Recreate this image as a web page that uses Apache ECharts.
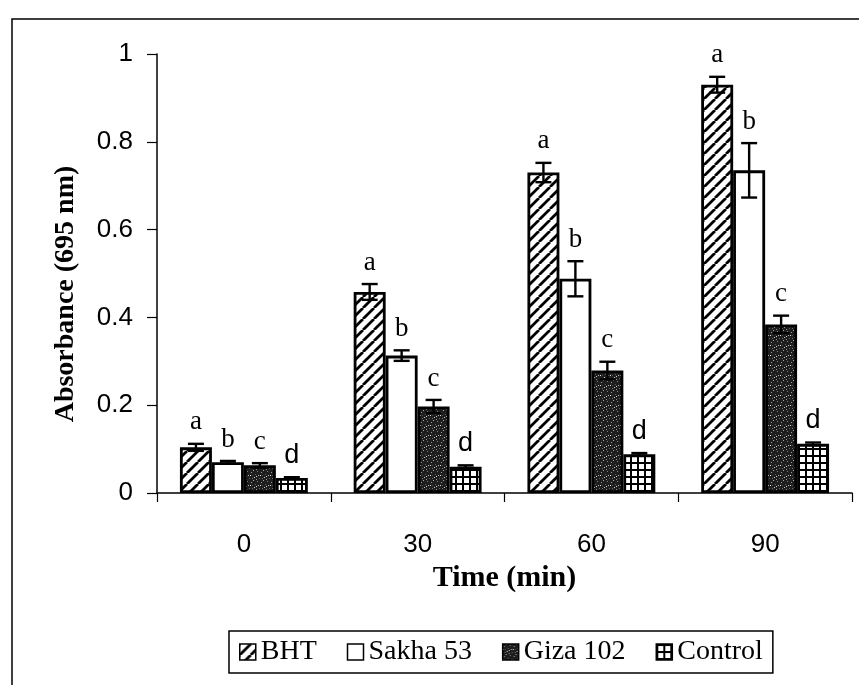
<!DOCTYPE html>
<html>
<head>
<meta charset="utf-8">
<script src="https://cdn.jsdelivr.net/npm/echarts@6/dist/echarts.min.js"></script>
<style>
html, body { margin: 0; padding: 0; background: #fff; }
#main { width: 859px; height: 685px; }
</style>
</head>
<body>
<div id="main"></div>
<script>
// data
var times = ['0', '30', '60', '90'];
var seriesNames = ['BHT', 'Sakha 53', 'Giza 102', 'Control'];
var bhtValues = [0.104, 0.458, 0.730, 0.930];
var sakhaValues = [0.070, 0.313, 0.488, 0.735];
var gizaValues = [0.063, 0.197, 0.279, 0.384];
var controlValues = [0.034, 0.060, 0.088, 0.112];
var bhtErrors = [0.008, 0.018, 0.022, 0.018];
var sakhaErrors = [0.003, 0.012, 0.040, 0.062];
var gizaErrors = [0.005, 0.015, 0.020, 0.020];
var controlErrors = [0.002, 0.003, 0.003, 0.003];
var groupLetters = ['a', 'b', 'c', 'd'];

var valueSets = [bhtValues, sakhaValues, gizaValues, controlValues];
var errorSets = [bhtErrors, sakhaErrors, gizaErrors, controlErrors];

var SERIF = '"Liberation Serif", "Times New Roman", serif';
var SANS = '"Liberation Sans", Arial, sans-serif';
var BAR_W = 0.184; // share of category band

// fill patterns
function makeTile(w, h, draw) {
    var c = document.createElement('canvas');
    c.width = w; c.height = h;
    draw(c.getContext('2d'), w, h);
    return c;
}
var hatchTile = makeTile(11, 11, function (ctx, w, h) {
    ctx.fillStyle = '#fff'; ctx.fillRect(0, 0, w, h);
    ctx.strokeStyle = '#000'; ctx.lineWidth = 2.8;
    ctx.beginPath();
    for (var k = -1; k <= 1; k++) {
        ctx.moveTo(k * w, h); ctx.lineTo(k * w + w, 0);
    }
    ctx.stroke();
});
var speckleTile = makeTile(10, 10, function (ctx, w, h) {
    ctx.fillStyle = '#1e1e1e'; ctx.fillRect(0, 0, w, h);
    var dots = [[1, 2, '#9a9a9a'], [4, 7, '#c8c8c8'], [7, 1, '#808080'], [8, 5, '#b0b0b0'],
        [2, 8, '#707070'], [5, 4, '#5a5a5a'], [0, 5, '#e0e0e0'], [6, 9, '#909090'],
        [9, 8, '#606060'], [3, 0, '#a8a8a8'], [6, 6, '#d0d0d0'], [2, 5, '#484848']];
    dots.forEach(function (d) { ctx.fillStyle = d[2]; ctx.fillRect(d[0], d[1], 1, 1); });
});
var gridTile = makeTile(7, 7, function (ctx, w, h) {
    ctx.fillStyle = '#000'; ctx.fillRect(0, 0, w, h);
    ctx.fillStyle = '#fff'; ctx.fillRect(2, 2, 5, 5);
});
var fills = [
    { image: hatchTile, repeat: 'repeat' },
    '#ffffff',
    { image: speckleTile, repeat: 'repeat' },
    { image: gridTile, repeat: 'repeat' }
];

var barSeries = seriesNames.map(function (name, i) {
    return {
        name: name,
        type: 'bar',
        data: valueSets[i],
        barWidth: (BAR_W * 100) + '%',
        barGap: '0%',
        itemStyle: { color: fills[i], borderColor: '#000', borderWidth: 2.8 }
    };
});

// error bars + letters
function errorSeries(i) {
    return {
        type: 'custom',
        name: seriesNames[i] + ' sd',
        z: 5,
        data: times.map(function (t, k) { return [k, valueSets[i][k], errorSets[i][k]]; }),
        encode: { x: 0, y: 1 },
        renderItem: function (params, api) {
            var k = api.value(0), v = api.value(1), e = api.value(2);
            var band = api.size([1, 0])[0];
            var x = api.coord([k, v])[0] + (i - 1.5) * band * BAR_W;
            var top = api.coord([k, v + e])[1];
            var bot = api.coord([k, v - e])[1];
            var cap = 8;
            var st = { stroke: '#000', lineWidth: 2.4 };
            return {
                type: 'group',
                children: [
                    { type: 'line', shape: { x1: x, y1: top, x2: x, y2: bot }, style: st },
                    { type: 'line', shape: { x1: x - cap, y1: top, x2: x + cap, y2: top }, style: st },
                    { type: 'line', shape: { x1: x - cap, y1: bot, x2: x + cap, y2: bot }, style: st },
                    {
                        type: 'text', x: x, y: top - 8,
                        style: {
                            text: groupLetters[i], fill: '#000',
                            fontSize: 27, fontFamily: i === 3 ? SANS : SERIF,
                            align: 'center', verticalAlign: 'bottom'
                        }
                    }
                ]
            };
        }
    };
}

var chart = echarts.init(document.getElementById('main'));
chart.setOption({
    animation: false,
    backgroundColor: '#fff',
    grid: { left: 157, right: 7, top: 54, bottom: 192 },
    xAxis: {
        type: 'category',
        data: times,
        axisLine: { lineStyle: { color: '#000', width: 1.5 } },
        axisTick: { show: true, length: 9, lineStyle: { color: '#000', width: 1.2 } },
        axisLabel: { color: '#000', fontSize: 26, fontFamily: SANS, margin: 39 },
        name: 'Time (min)',
        nameLocation: 'middle',
        nameGap: 69,
        nameTextStyle: { color: '#000', fontSize: 30, fontWeight: 'bold', fontFamily: SERIF }
    },
    yAxis: {
        type: 'value',
        min: 0, max: 1, interval: 0.2,
        axisLine: { show: true, lineStyle: { color: '#000', width: 1.5 } },
        axisTick: { show: true, length: 10, lineStyle: { color: '#000', width: 1.2 } },
        axisLabel: { color: '#000', fontSize: 26, fontFamily: SANS, margin: 24 },
        splitLine: { show: false }
    },
    legend: {
        data: seriesNames,
        left: 229, top: 631,
        icon: 'rect',
        itemWidth: 16, itemHeight: 16, itemGap: 30,
        itemStyle: { borderWidth: 1.5, borderColor: '#000' },
        padding: [7, 10, 7, 10],
        borderColor: '#000', borderWidth: 1.5,
        textStyle: { color: '#000', fontSize: 28, fontFamily: SERIF }
    },
    graphic: [
        {
            type: 'rect', silent: true, z: -10,
            shape: { x: 12, y: 19, width: 900, height: 700 },
            style: { fill: 'none', stroke: '#000', lineWidth: 1.5 }
        },
        {
            type: 'text', x: 66, y: 294, rotation: Math.PI / 2,
            style: {
                text: 'Absorbance (695 nm)', fill: '#000',
                fontSize: 28, fontWeight: 'bold', fontFamily: SERIF,
                align: 'center', verticalAlign: 'middle'
            }
        }
    ],
    series: barSeries.concat([0, 1, 2, 3].map(errorSeries))
});
</script>
</body>
</html>
